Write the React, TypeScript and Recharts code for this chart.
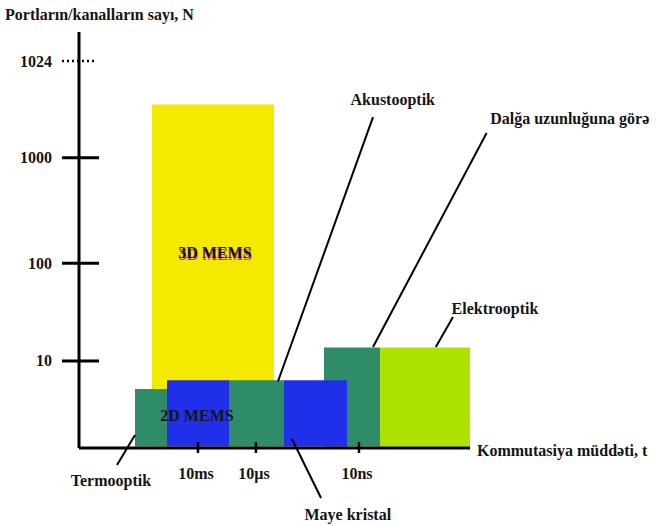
import {
  ComposedChart,
  Label,
  ReferenceArea,
  ReferenceDot,
  ReferenceLine,
  XAxis,
  YAxis,
} from "recharts";

// schematic axes: x = relative switching-time position, y = decade level of N
const xTicks = [12.17, 18.1, 28.64];
const xTickLabels = ["10ms", "10µs", "10ns"];
const yTicks = [0.9, 1.91, 3.0, 4.0];
const yTickLabels = ["10", "100", "1000", "1024"];

// technology blocks (drawn in this order)
const blockNames = [
  "3D MEMS",
  "Termooptik",
  "Dalğa uzunluğuna görə",
  "2D MEMS",
  "Akustooptik",
  "Maye kristal",
  "Elektrooptik",
];
const blockStart = [7.47, 5.73, 25.06, 9.0, 15.35, 20.97, 30.8];
const blockEnd = [19.95, 9.0, 30.8, 15.35, 20.97, 27.42, 40];
const blockTop = [3.55, 0.61, 1.04, 0.7, 0.7, 0.7, 1.04];
const blockKind = ["mems3d", "green", "green", "blue", "green", "blue", "lime"];

// names written inside blocks
const innerNames = ["3D MEMS", "2D MEMS"];
const innerX = [13.9, 12.07];
const innerY = [2.02, 0.34];

// callouts: text position, leader line from (fromX, fromY) to (toX, toY)
const calloutNames = ["Akustooptik", "Dalğa uzunluğuna görə", "Elektrooptik", "Termooptik", "Maye kristal"];
const calloutX = [32.1, 50.2, 42.56, 3.27, 27.5];
const calloutY = [3.6, 3.41, 1.447, -0.341, -0.69];
const lineFromX = [30.08, 41.7, 38.26, 3.89, 24.76];
const lineFromY = [3.42, 3.256, 1.354, -0.176, -0.517];
const lineToX = [20.36, 30.08, 36.5, 5.73, 21.79];
const lineToY = [0.69, 1.044, 1.044, 0.134, 0.093];

const FONT = "'Liberation Serif', 'DejaVu Serif', serif";
const INK = "#151515";
const colors: Record<string, string> = {
  mems3d: "#f3ea00",
  green: "#2e8c68",
  blue: "#2030ea",
  lime: "#ace300",
};

const textStyle = {
  style: { fontFamily: FONT, fontWeight: 700, fontSize: 16 },
  fill: INK,
};

const YTick = (props: any) => {
  const { x, y, payload } = props;
  const i = yTicks.indexOf(payload.value);
  const dotted = i === yTicks.length - 1;
  return (
    <g>
      <line
        x1={x - 17}
        x2={x + (dotted ? 18 : 20)}
        y1={y}
        y2={y}
        stroke="#000"
        strokeWidth={dotted ? 2.5 : 3}
        strokeDasharray={dotted ? "2 3" : undefined}
      />
      <text x={x - 27} y={y} textAnchor="end" dominantBaseline="central" {...textStyle}>
        {yTickLabels[i]}
      </text>
    </g>
  );
};

const XTick = (props: any) => {
  const { x, y, payload } = props;
  const i = xTicks.indexOf(payload.value);
  return (
    <g>
      <line x1={x} x2={x} y1={y - 6} y2={y + 5} stroke="#000" strokeWidth={2.5} />
      <text x={x - 2} y={y + 25} textAnchor="middle" dominantBaseline="central" {...textStyle}>
        {xTickLabels[i]}
      </text>
    </g>
  );
};

const textAt = (value: string, shadow = false) => (p: any) => (
  <g>
    {shadow && (
      <text
        x={p.viewBox.x + 0.5}
        y={p.viewBox.y + 1.5}
        textAnchor="middle"
        dominantBaseline="central"
        {...textStyle}
        fill="#d21ec8"
      >
        {value}
      </text>
    )}
    <text
      x={p.viewBox.x}
      y={p.viewBox.y}
      textAnchor="middle"
      dominantBaseline="central"
      {...textStyle}
    >
      {value}
    </text>
  </g>
);

export default function App() {
  return (
    <div style={{ position: "absolute", left: 0, top: 0, background: "#fff" }}>
      <ComposedChart
        width={656}
        height={526}
        data={[]}
        margin={{ top: 32, right: 186, bottom: 48, left: 19 }}
      >
        <XAxis
          type="number"
          dataKey="x"
          domain={[0, 40]}
          ticks={xTicks}
          tick={<XTick />}
          tickLine={false}
          tickSize={0}
          tickMargin={0}
          height={30}
          axisLine={{ stroke: "#000", strokeWidth: 3 }}
          allowDataOverflow
        >
          <Label
            content={(p: any) => (
              <text
                x={p.viewBox.x + p.viewBox.width + 7}
                y={p.viewBox.y + 2}
                dominantBaseline="central"
                {...textStyle}
              >
                Kommutasiya müddəti, t
              </text>
            )}
          />
        </XAxis>
        <YAxis
          type="number"
          dataKey="y"
          domain={[0, 4.3]}
          ticks={yTicks}
          tick={<YTick />}
          tickLine={false}
          tickSize={0}
          tickMargin={0}
          width={60}
          axisLine={{ stroke: "#000", strokeWidth: 3 }}
          allowDataOverflow
        >
          <Label
            content={(p: any) => (
              <text
                x={p.viewBox.x - 14}
                y={p.viewBox.y - 18}
                dominantBaseline="central"
                {...textStyle}
              >
                Portların/kanalların sayı, N
              </text>
            )}
          />
        </YAxis>

        {blockNames.map((name, i) => (
          <ReferenceArea
            key={name}
            x1={blockStart[i]}
            x2={blockEnd[i]}
            y1={0.015}
            y2={blockTop[i]}
            fill={colors[blockKind[i]]}
            fillOpacity={1}
            stroke="none"
            ifOverflow="visible"
          />
        ))}

        {innerNames.map((name, i) => (
          <ReferenceDot
            key={name}
            x={innerX[i]}
            y={innerY[i]}
            r={0}
            stroke="none"
            fill="none"
            ifOverflow="visible"
            label={textAt(name, i === 0)}
          />
        ))}

        {calloutNames.map((name, i) => (
          <ReferenceLine
            key={`l-${name}`}
            segment={[
              { x: lineFromX[i], y: lineFromY[i] },
              { x: lineToX[i], y: lineToY[i] },
            ]}
            stroke="#000"
            strokeWidth={2}
            ifOverflow="visible"
          />
        ))}
        {calloutNames.map((name, i) => (
          <ReferenceDot
            key={`t-${name}`}
            x={calloutX[i]}
            y={calloutY[i]}
            r={0}
            stroke="none"
            fill="none"
            ifOverflow="visible"
            label={textAt(name)}
          />
        ))}
      </ComposedChart>
    </div>
  );
}
